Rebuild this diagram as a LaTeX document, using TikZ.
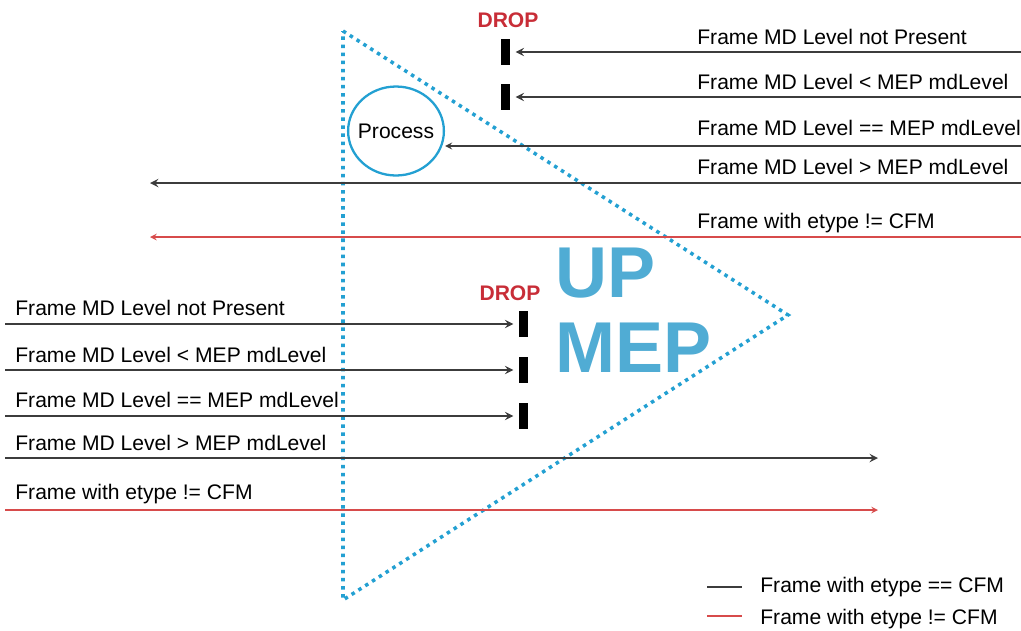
\documentclass[tikz,border=0pt]{standalone}
\usepackage{fontspec}
\setmainfont{Liberation Sans}
\usetikzlibrary{shapes.geometric}
\definecolor{mepblue}{RGB}{35,160,210}
\definecolor{upblue}{RGB}{80,172,212}
\definecolor{dropred}{RGB}{200,45,55}
\definecolor{etred}{RGB}{215,75,75}
\definecolor{cfmgray}{RGB}{60,60,60}
\tikzset{
	cfm/.style={-stealth, cfmgray, line width=1.1pt},
	notcfm/.style={-stealth, etred, line width=0.7pt},
	lbl/.style={anchor=base west, inner sep=0pt, font=\fontsize{12}{14}\selectfont},
	droplbl/.style={anchor=base, inner sep=0pt, dropred, font=\fontsize{12}{14}\selectfont\bfseries},
	dropbar/.style={fill=black, inner sep=0pt, minimum width=0.18cm, minimum height=0.52cm},
	mepline/.style={mepblue, line width=2pt, dash pattern=on 2pt off 2.6pt},
}
\begin{document}
\begin{tikzpicture}[x=0.02cm, y=-0.02cm]
	\useasboundingbox (0,0) rectangle (1021,630);
	% the MEP
	\draw[mepline] (343,31) -- (788,315) -- (343,600) -- cycle;
	\node[upblue, anchor=west, inner sep=0pt, align=left, font=\fontsize{41}{42.5}\selectfont\bfseries] (upmep) at (555,310) {UP\\MEP};
	\node[ellipse, draw=mepblue, line width=1.3pt, minimum width=1.88cm, minimum height=1.78cm, inner xsep=-2.4pt, inner ysep=0pt, font=\fontsize{12}{14}\selectfont] (proc) at (396,131) {Process};
	% frames coming in from the wire
	\node[droplbl] (drop1) at (508,27.5) {DROP};
	\node[dropbar] (bar1) at (505.5,52) {};
	\node[dropbar] (bar2) at (505.5,97) {};
	\coordinate (in1) at (1021,52);
	\coordinate (in2) at (1021,97);
	\coordinate (in3) at (1021,146);
	\coordinate (in4) at (1021,183);
	\coordinate (in5) at (1021,237);
	\coordinate (up4) at (150,183);
	\coordinate (up5) at (150,237);
	\draw[cfm, shorten >=3pt] (in1) -- (bar1);
	\draw[cfm, shorten >=3pt] (in2) -- (bar2);
	\draw[cfm, line width=0.8pt] (in3) -- (in3 -| proc.east);
	\draw[cfm] (in4) -- (up4);
	\draw[notcfm] (in5) -- (up5);
	\node[lbl] (t1) at (697,44.5) {Frame MD Level not Present};
	\node[lbl] (t2) at (697,89.5) {Frame MD Level < MEP mdLevel};
	\node[lbl] (t3) at (697,135.5) {Frame MD Level == MEP mdLevel};
	\node[lbl] (t4) at (697,174.5) {Frame MD Level > MEP mdLevel};
	\node[lbl] (t5) at (697,228.5) {Frame with etype != CFM};
	% frames coming from the bridge
	\node[droplbl] (drop2) at (510,300.5) {DROP};
	\node[dropbar] (dbar1) at (523.5,324) {};
	\node[dropbar] (dbar2) at (523.5,370) {};
	\node[dropbar] (dbar3) at (523.5,416) {};
	\coordinate (out1) at (5,324);
	\coordinate (out2) at (5,370);
	\coordinate (out3) at (5,416);
	\coordinate (out4) at (5,458);
	\coordinate (out5) at (5,510);
	\coordinate (dn4) at (878,458);
	\coordinate (dn5) at (878,510);
	\draw[cfm, shorten >=3pt] (out1) -- (dbar1);
	\draw[cfm, shorten >=3pt] (out2) -- (dbar2);
	\draw[cfm, shorten >=3pt] (out3) -- (dbar3);
	\draw[cfm] (out4) -- (dn4);
	\draw[notcfm] (out5) -- (dn5);
	\node[lbl] (b1) at (15,315.5) {Frame MD Level not Present};
	\node[lbl] (b2) at (15,362.5) {Frame MD Level < MEP mdLevel};
	\node[lbl] (b3) at (15,407.5) {Frame MD Level == MEP mdLevel};
	\node[lbl] (b4) at (15,450.5) {Frame MD Level > MEP mdLevel};
	\node[lbl] (b5) at (15,499.5) {Frame with etype != CFM};
	% legend
	\draw[cfmgray, line width=1.6pt] (707,587) -- (742,587);
	\draw[etred, line width=1pt] (707,616) -- (742,616);
	\node[lbl] (k1) at (760,592.5) {Frame with etype == CFM};
	\node[lbl] (k2) at (760,624.5) {Frame with etype != CFM};
\end{tikzpicture}
\end{document}
